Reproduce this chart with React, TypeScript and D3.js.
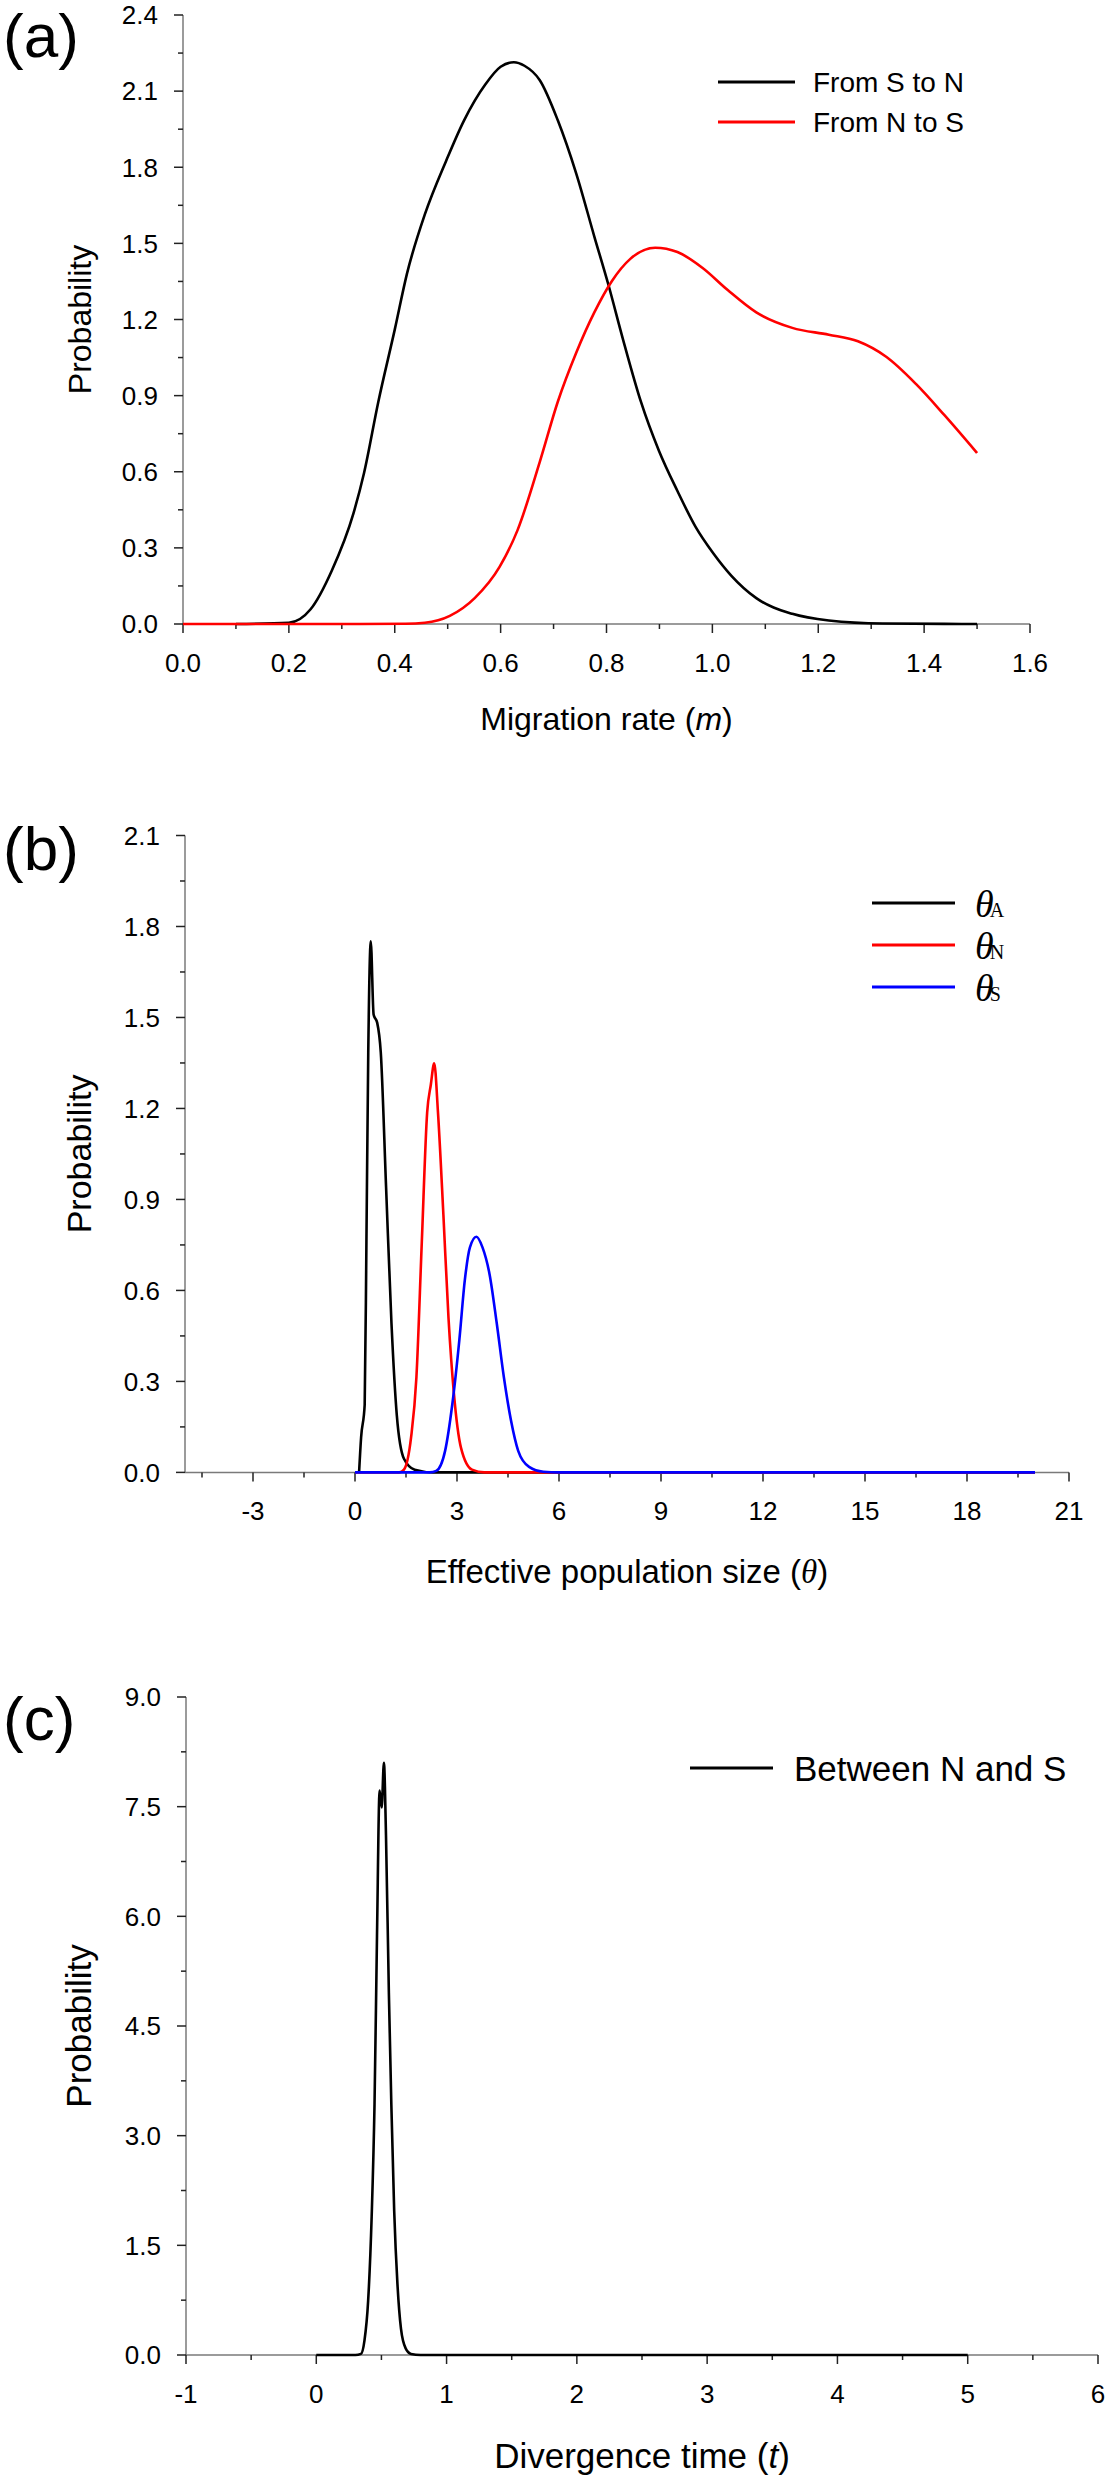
import React from 'react';
import * as d3 from 'd3';

// ---------- Panel (a): migration rate ----------
const migStoN: [number, number][] = [
  [0.1, 0], [0.2, 0.005], [0.241, 0.058], [0.281, 0.21], [0.322, 0.436], [0.342, 0.595],
  [0.369, 0.876], [0.4, 1.16], [0.423, 1.38], [0.457, 1.615], [0.497, 1.825], [0.531, 1.985],
  [0.571, 2.126], [0.6, 2.196], [0.625, 2.214], [0.645, 2.2], [0.674, 2.143], [0.708, 1.985],
  [0.743, 1.774], [0.777, 1.527], [0.804, 1.334], [0.831, 1.123], [0.865, 0.876], [0.899, 0.683],
  [0.934, 0.524], [0.968, 0.384], [1.002, 0.278], [1.036, 0.19], [1.083, 0.102], [1.151, 0.04],
  [1.22, 0.014], [1.322, 0.002], [1.5, 0],
];
const migNtoS: [number, number][] = [
  [0, 0], [0.3, 0], [0.42, 0.001], [0.457, 0.005], [0.504, 0.032], [0.551, 0.102], [0.598, 0.225],
  [0.632, 0.37], [0.674, 0.639], [0.708, 0.876], [0.743, 1.07], [0.777, 1.228], [0.81, 1.351],
  [0.845, 1.439], [0.892, 1.483], [0.934, 1.466], [0.981, 1.404], [1.029, 1.316], [1.083, 1.228],
  [1.151, 1.167], [1.22, 1.14], [1.275, 1.114], [1.329, 1.052], [1.384, 0.947], [1.438, 0.824],
  [1.5, 0.674],
];
const aXMajor = [0, 0.2, 0.4, 0.6, 0.8, 1.0, 1.2, 1.4, 1.6];
const aXMinor = [0.1, 0.3, 0.5, 0.7, 0.9, 1.1, 1.3, 1.5];
const aYMajor = [0, 0.3, 0.6, 0.9, 1.2, 1.5, 1.8, 2.1, 2.4];
const aYMinor = [0.15, 0.45, 0.75, 1.05, 1.35, 1.65, 1.95, 2.25];

// ---------- Panel (b): effective population size ----------
const thetaA: [number, number][] = [
  [0.12, 0], [0.18, 0.116], [0.285, 0.223], [0.336, 0.76], [0.39, 1.385], [0.464, 1.751],
  [0.547, 1.51], [0.652, 1.483], [0.758, 1.385], [0.915, 0.938], [1.073, 0.491], [1.23, 0.188],
  [1.44, 0.045], [1.755, 0.009], [2.3, 0], [20, 0],
];
const thetaN: [number, number][] = [
  [0, 0], [1.3, 0], [1.44, 0.009], [1.65, 0.116], [1.806, 0.313], [1.965, 0.76], [2.123, 1.188],
  [2.23, 1.278], [2.33, 1.349], [2.44, 1.188], [2.6, 0.849], [2.75, 0.509], [2.91, 0.259],
  [3.12, 0.08], [3.44, 0.009], [3.8, 0], [20, 0],
];
const thetaS: [number, number][] = [
  [0, 0], [2.2, 0], [2.39, 0.005], [2.65, 0.071], [2.86, 0.223], [3.07, 0.438], [3.23, 0.634],
  [3.38, 0.742], [3.57, 0.777], [3.75, 0.742], [3.96, 0.652], [4.17, 0.491], [4.38, 0.313],
  [4.59, 0.17], [4.8, 0.071], [5.12, 0.018], [5.54, 0.002], [6.0, 0], [20, 0],
];
const bXMajor = [-3, 0, 3, 6, 9, 12, 15, 18, 21];
const bXMinor = [-4.5, -1.5, 1.5, 4.5, 7.5, 10.5, 13.5, 16.5, 19.5];
const bYMajor = [0, 0.3, 0.6, 0.9, 1.2, 1.5, 1.8, 2.1];
const bYMinor = [0.15, 0.45, 0.75, 1.05, 1.35, 1.65, 1.95];
const bLegend = [
  { color: '#000', sub: 'A' },
  { color: '#ff0000', sub: 'N' },
  { color: '#0000ff', sub: 'S' },
];

// ---------- Panel (c): divergence time ----------
const divTime: [number, number][] = [
  [0, 0], [0.3, 0], [0.343, 0.015], [0.37, 0.2], [0.398, 0.74], [0.425, 1.89], [0.447, 3.43],
  [0.466, 5.73], [0.486, 7.72], [0.502, 7.49], [0.519, 8.1], [0.535, 7.11], [0.557, 4.96],
  [0.576, 3.43], [0.598, 1.97], [0.623, 0.97], [0.65, 0.36], [0.686, 0.09], [0.727, 0.015],
  [0.8, 0], [5, 0],
];
const cXMajor = [-1, 0, 1, 2, 3, 4, 5, 6];
const cXMinor = [-0.5, 0.5, 1.5, 2.5, 3.5, 4.5, 5.5];
const cYMajor = [0, 1.5, 3.0, 4.5, 6.0, 7.5, 9.0];
const cYMinor = [0.75, 2.25, 3.75, 5.25, 6.75, 8.25];

const SANS = "'Liberation Sans', Arial, Helvetica, sans-serif";
const SERIF = "'Liberation Serif', 'Times New Roman', serif";

type Series = { data: [number, number][]; color: string };

type PanelProps = {
  left: number; right: number; top: number; bottom: number;
  xDomain: [number, number]; yDomain: [number, number];
  xMajor: number[]; xMinor: number[]; yMajor: number[]; yMinor: number[];
  xFmt: (v: number) => string; yFmt: (v: number) => string;
  series: Series[];
  tag: string; tagBaseline: number;
  ylabSize: number;
  title: React.ReactNode; titleBaseline: number; titleSize: number;
};

function Panel(p: PanelProps) {
  const x = d3.scaleLinear().domain(p.xDomain).range([p.left, p.right]);
  const y = d3.scaleLinear().domain(p.yDomain).range([p.bottom, p.top]);
  const line = d3.line<[number, number]>().x(d => x(d[0])).y(d => y(d[1])).curve(d3.curveMonotoneX);
  const tickCol = '#222';
  const cy = (p.top + p.bottom) / 2;
  const cx = (p.left + p.right) / 2;
  return (
    <g>
      <text x={3} y={p.tagBaseline} fontFamily={SANS} fontSize={62} fill="#000">{p.tag}</text>
      <line x1={p.left} x2={p.left} y1={p.top} y2={p.bottom} stroke="#7a7a7a" strokeWidth={1.5} />
      <line x1={p.left} x2={p.right} y1={p.bottom} y2={p.bottom} stroke="#7a7a7a" strokeWidth={1.5} />
      {p.yMajor.map(v => (
        <g key={'ym' + v}>
          <line x1={p.left - 9} x2={p.left} y1={y(v)} y2={y(v)} stroke={tickCol} strokeWidth={1.5} />
          <text x={p.left - 25} y={y(v)} dy="0.36em" textAnchor="end" fontFamily={SANS} fontSize={26} fill="#000">{p.yFmt(v)}</text>
        </g>
      ))}
      {p.yMinor.map(v => (
        <line key={'yn' + v} x1={p.left - 5} x2={p.left} y1={y(v)} y2={y(v)} stroke={tickCol} strokeWidth={1.5} />
      ))}
      {p.xMajor.map(v => (
        <g key={'xm' + v}>
          <line x1={x(v)} x2={x(v)} y1={p.bottom} y2={p.bottom + 9} stroke={tickCol} strokeWidth={1.5} />
          <text x={x(v)} y={p.bottom + 48} textAnchor="middle" fontFamily={SANS} fontSize={26} fill="#000">{p.xFmt(v)}</text>
        </g>
      ))}
      {p.xMinor.map(v => (
        <line key={'xn' + v} x1={x(v)} x2={x(v)} y1={p.bottom} y2={p.bottom + 5} stroke={tickCol} strokeWidth={1.5} />
      ))}
      {p.series.map((s, i) => (
        <path key={'s' + i} d={line(s.data) || ''} fill="none" stroke={s.color} strokeWidth={2.6} strokeLinejoin="round" />
      ))}
      <text transform={`translate(91,${cy}) rotate(-90)`} textAnchor="middle" fontFamily={SANS} fontSize={p.ylabSize} fill="#000">Probability</text>
      <text x={cx} y={p.titleBaseline} textAnchor="middle" fontFamily={SANS} fontSize={p.titleSize} fill="#000">{p.title}</text>
    </g>
  );
}

const f1 = (v: number) => d3.format('.1f')(v).replace('−', '-');
const f0 = (v: number) => String(v);

export default function App() {
  return (
    <svg width={1106} height={2479} style={{ position: 'absolute', left: 0, top: 0, background: '#fff' }}>
      <rect x={0} y={0} width={1106} height={2479} fill="#fff" />
      <Panel
        left={183} right={1030} top={15} bottom={624}
        xDomain={[0, 1.6]} yDomain={[0, 2.4]}
        xMajor={aXMajor} xMinor={aXMinor} yMajor={aYMajor} yMinor={aYMinor}
        xFmt={f1} yFmt={f1}
        series={[{ data: migStoN, color: '#000' }, { data: migNtoS, color: '#ff0000' }]}
        tag="(a)" tagBaseline={57} ylabSize={32}
        title={<>Migration rate (<tspan fontStyle="italic">m</tspan>)</>} titleBaseline={730} titleSize={32}
      />
      <g fontFamily={SANS} fontSize={28}>
        <line x1={718} x2={795} y1={82} y2={82} stroke="#000" strokeWidth={3} />
        <text x={813} y={92}>From S to N</text>
        <line x1={718} x2={795} y1={122} y2={122} stroke="#ff0000" strokeWidth={3} />
        <text x={813} y={132}>From N to S</text>
      </g>

      <Panel
        left={185} right={1069} top={835.5} bottom={1472.4}
        xDomain={[-5, 21]} yDomain={[0, 2.1]}
        xMajor={bXMajor} xMinor={bXMinor} yMajor={bYMajor} yMinor={bYMinor}
        xFmt={f0} yFmt={f1}
        series={[{ data: thetaA, color: '#000' }, { data: thetaN, color: '#ff0000' }, { data: thetaS, color: '#0000ff' }]}
        tag="(b)" tagBaseline={870} ylabSize={34}
        title={<>Effective population size (<tspan fontFamily={SERIF} fontStyle="italic">θ</tspan>)</>} titleBaseline={1583} titleSize={33}
      />
      {bLegend.map((e, i) => {
        const ly = 903 + i * 42;
        return (
          <g key={e.sub}>
            <line x1={872} x2={955} y1={ly} y2={ly} stroke={e.color} strokeWidth={3} />
            <text x={975} y={ly + 14} fontFamily={SERIF} fontSize={38} fontStyle="italic" fill="#000">θ<tspan fontStyle="normal" fontSize={20} dx={-4}>{e.sub}</tspan></text>
          </g>
        );
      })}

      <Panel
        left={186} right={1098} top={1697} bottom={2355}
        xDomain={[-1, 6]} yDomain={[0, 9]}
        xMajor={cXMajor} xMinor={cXMinor} yMajor={cYMajor} yMinor={cYMinor}
        xFmt={f0} yFmt={f1}
        series={[{ data: divTime, color: '#000' }]}
        tag="(c)" tagBaseline={1740} ylabSize={35}
        title={<>Divergence time (<tspan fontStyle="italic">t</tspan>)</>} titleBaseline={2468} titleSize={35}
      />
      <g fontFamily={SANS} fontSize={35}>
        <line x1={690} x2={773} y1={1768} y2={1768} stroke="#000" strokeWidth={3} />
        <text x={794} y={1781}>Between N and S</text>
      </g>
    </svg>
  );
}
